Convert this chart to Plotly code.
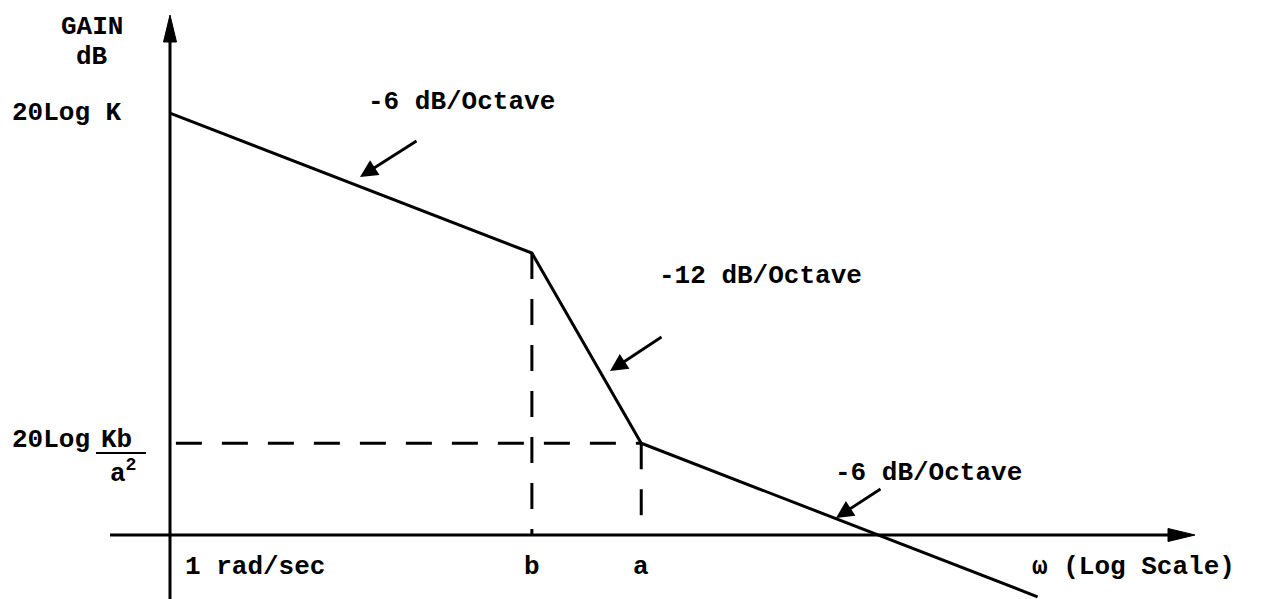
import math
import plotly.graph_objects as go

W, H = 1261, 599

# ---- data ----
omega = [1, 15, 34, 660]            # rad/sec : start (1 rad/sec), b, a, end of plotted line
gain_db = [70.3, 47.0, 15.3, -10.3]  # asymptotic gain (dB) at those frequencies
break_labels = ["b", "a"]
slope_labels = ["-6 dB/Octave", "-12 dB/Octave", "-6 dB/Octave"]

# ---- geometry of the drawing (pixels) ----
X0_PX = 170          # pixel column of omega = 1
Y0_PX = 535          # pixel row of 0 dB
PX_PER_DECADE = 307.7
PX_PER_DB = 6.0

def lx(px):   # pixel column -> log10(omega)
    return (px - X0_PX) / PX_PER_DECADE

def ly(py):   # pixel row -> dB
    return (Y0_PX - py) / PX_PER_DB

def paper_x(px):
    return px / W

def paper_y(py):
    return 1 - py / H

xrange_log = [lx(0), lx(W)]
yrange = [ly(H), ly(0)]

FONT = dict(family="Liberation Mono", size=26, color="black", weight="bold")
LW = 3

fig = go.Figure()

# y axis line
y_tip = ly(15)
y_base = ly(42)
fig.add_trace(go.Scatter(x=[omega[0], omega[0]], y=[yrange[0], y_base + 0.5],
                         mode="lines", line=dict(color="black", width=LW),
                         hoverinfo="skip", showlegend=False))
# y axis arrowhead
hw = 6.5 / PX_PER_DECADE
fig.add_trace(go.Scatter(x=[omega[0] * 10 ** (-hw), omega[0], omega[0] * 10 ** hw, omega[0] * 10 ** (-hw)],
                         y=[y_base, y_tip, y_base, y_base],
                         mode="lines", fill="toself", fillcolor="black",
                         line=dict(color="black", width=1),
                         hoverinfo="skip", showlegend=False))

# x axis line
x_start = 10 ** lx(110)
x_tip = 10 ** lx(1195)
x_base = 10 ** lx(1168)
fig.add_trace(go.Scatter(x=[x_start, x_base], y=[0, 0],
                         mode="lines", line=dict(color="black", width=LW),
                         hoverinfo="skip", showlegend=False))
hh = 6.5 / PX_PER_DB
fig.add_trace(go.Scatter(x=[x_base, x_tip, x_base, x_base],
                         y=[-hh, 0, hh, -hh],
                         mode="lines", fill="toself", fillcolor="black",
                         line=dict(color="black", width=1),
                         hoverinfo="skip", showlegend=False))

# dashed construction lines
DASH = "26px,20px"
for w, g in zip(omega[1:3], gain_db[1:3]):
    fig.add_trace(go.Scatter(x=[w, w], y=[g, 0], mode="lines",
                             line=dict(color="black", width=LW, dash=DASH),
                             hoverinfo="skip", showlegend=False))
fig.add_trace(go.Scatter(x=[omega[0] * 1.045, omega[2]], y=[gain_db[2], gain_db[2]], mode="lines",
                         line=dict(color="black", width=LW, dash=DASH),
                         hoverinfo="skip", showlegend=False))

# asymptotic gain curve
fig.add_trace(go.Scatter(x=omega, y=gain_db, mode="lines",
                         line=dict(color="black", width=LW),
                         hoverinfo="skip", showlegend=False))

annotations = []

def text(t, px, py, xanchor="center", yanchor="middle"):
    annotations.append(dict(text=t, x=paper_x(px), y=paper_y(py), xref="paper", yref="paper",
                            xanchor=xanchor, yanchor=yanchor, showarrow=False, font=FONT))

text("GAIN", 92, 27)
text("dB", 92, 57)
text("20Log K", 10, 113, xanchor="left")
text("20Log", 10, 440, xanchor="left")
text("Kb", 99, 440, xanchor="left")
text("a<sup>2</sup>", 108, 472, xanchor="left")
text("1 rad/sec", 183, 567, xanchor="left")
text("\u03c9 (Log Scale)", 1030, 567, xanchor="left")

for lab, w in zip(break_labels, omega[1:3]):
    annotations.append(dict(text=lab, x=math.log10(w), y=paper_y(567), xref="x", yref="paper",
                            xanchor="center", yanchor="middle", showarrow=False, font=FONT))

# slope labels
slope_text_pos = [(462, 102), (760, 276), (928, 473)]
for lab, (px, py) in zip(slope_labels, slope_text_pos):
    text(lab, px, py)

# slope arrows (tip, tail) in pixels
arrows = [((360, 177), (418, 140)), ((610, 371), (663, 336)), ((836, 518), (882, 488))]
for (tx, ty), (sx, sy) in arrows:
    annotations.append(dict(text="", x=paper_x(tx), y=paper_y(ty), xref="paper", yref="paper",
                            ax=sx - tx, ay=sy - ty, axref="pixel", ayref="pixel",
                            showarrow=True, arrowhead=2, arrowwidth=2.8, arrowsize=1.25,
                            arrowcolor="black", standoff=0, startstandoff=0))

fig.update_layout(
    width=W, height=H,
    margin=dict(l=0, r=0, t=0, b=0),
    paper_bgcolor="white", plot_bgcolor="white",
    xaxis=dict(type="log", range=xrange_log, visible=False, fixedrange=True),
    yaxis=dict(range=yrange, visible=False, fixedrange=True),
    annotations=annotations,
    # fraction bar of Kb / a^2
    shapes=[dict(type="line", xref="paper", yref="paper",
                 x0=paper_x(96), x1=paper_x(146), y0=paper_y(453), y1=paper_y(453),
                 line=dict(color="black", width=2))],
    showlegend=False,
)

fig.write_html("out.html", config={"displayModeBar": False},
               post_script="document.body.style.margin='0';document.body.style.overflow='hidden';")
